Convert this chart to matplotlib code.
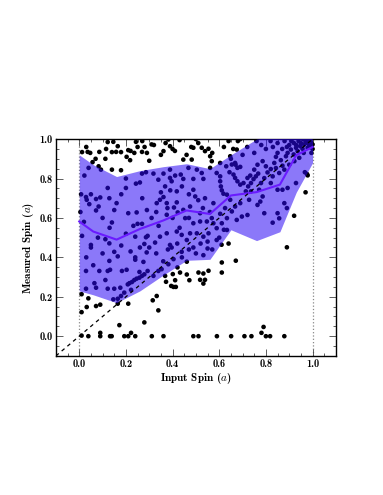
#!/usr/bin/env python3
"""Measured vs input spin: scatter with median and spread band."""

import numpy as np
import matplotlib
matplotlib.use("Agg")
import matplotlib.pyplot as plt
from matplotlib.ticker import MultipleLocator

plt.rcParams['mathtext.fontset'] = 'cm'
plt.rcParams['font.family'] = 'serif'
plt.rcParams['font.serif'] = ['cmb10', 'DejaVu Serif']
plt.rcParams['axes.unicode_minus'] = False

# binned median and spread
bin_x = [0.00, 0.06, 0.16, 0.26, 0.36, 0.46, 0.56, 0.65, 0.76, 0.86, 0.93, 1.00]
band_lo = [0.23, 0.21, 0.17, 0.23, 0.31, 0.385, 0.39, 0.54, 0.485, 0.53, 0.73, 0.88]
band_hi = [0.92, 0.87, 0.81, 0.84, 0.86, 0.875, 0.85, 0.92, 1.00, 1.02, 1.03, 1.00]
median = [0.582, 0.531, 0.49, 0.544, 0.587, 0.638, 0.62, 0.714, 0.731, 0.769, 0.918, 0.96]

# individual measurements: input spin, measured spin
pts = [
    # above the band, left half
    (0.012, 0.934), (0.036, 0.935), (0.047, 0.93), (0.086, 0.935), (0.115, 0.95),
    (0.122, 0.985), (0.146, 0.986), (0.14, 0.934), (0.158, 0.935), (0.179, 0.934),
    (0.165, 0.964), (0.203, 0.91), (0.218, 0.893), (0.21, 0.944), (0.236, 0.93),
    (0.243, 0.986), (0.269, 0.935), (0.112, 0.90), (0.057, 0.883), (0.083, 0.862),
    (0.093, 0.845), (0.14, 0.845), (0.179, 0.842), (0.03, 0.96), (0.07, 0.90),
    (0.25, 0.96), (0.27, 0.99), (0.28, 0.96), (0.29, 0.93), (0.30, 0.89),
    (0.31, 0.973), (0.361, 0.939), (0.382, 0.998), (0.389, 0.964), (0.40, 0.95),
    (0.41, 0.94), (0.43, 0.995), (0.446, 0.896), (0.482, 0.896), (0.489, 0.956),
    (0.525, 0.956), (0.539, 0.939), (0.554, 0.951), (0.561, 0.913), (0.568, 0.888),
    (0.604, 0.879), (0.647, 0.913), (0.675, 0.947), (0.69, 1.0), (0.35, 0.92),
    (0.37, 0.98), (0.46, 0.92), (0.48, 0.96), (0.50, 1.0), (0.51, 0.98),
    (0.57, 0.93), (0.62, 0.96), (0.64, 0.99), (0.32, 0.97), (0.22, 0.94),
    # inside band, left third
    (0.04, 0.854), (0.022, 0.815), (0.122, 0.752), (0.20, 0.752), (0.243, 0.774),
    (0.269, 0.825), (0.286, 0.832), (0.029, 0.706), (0.032, 0.692), (0.043, 0.67),
    (0.072, 0.696), (0.09, 0.704), (0.083, 0.658), (0.072, 0.638), (0.129, 0.70),
    (0.16, 0.675), (0.21, 0.624), (0.246, 0.628), (0.14, 0.577), (0.232, 0.56),
    (0.25, 0.57), (0.269, 0.57), (0.286, 0.502), (0.293, 0.509), (0.012, 0.509),
    (0.112, 0.492), (0.129, 0.471), (0.05, 0.463), (0.24, 0.505), (0.279, 0.468),
    (0.05, 0.45), (0.15, 0.428), (0.165, 0.405), (0.129, 0.382), (0.122, 0.331),
    (0.132, 0.337), (0.24, 0.40), (0.24, 0.388), (0.029, 0.331), (0.086, 0.331),
    (0.183, 0.331), (0.203, 0.337), (0.258, 0.326), (0.293, 0.331), (0.112, 0.285),
    (0.065, 0.269), (0.072, 0.246), (0.122, 0.241), (0.15, 0.241), (0.176, 0.246),
    (0.208, 0.263), (0.215, 0.269), (0.226, 0.275), (0.236, 0.285), (0.246, 0.292),
    (0.258, 0.297), (0.269, 0.306), (0.279, 0.314), (0.029, 0.241), (0.179, 0.204),
    (0.165, 0.19), (0.146, 0.187), (0.193, 0.221), (0.222, 0.235), (0.289, 0.425),
    (0.275, 0.377), (0.02, 0.58), (0.03, 0.40), (0.06, 0.36), (0.10, 0.42),
    (0.18, 0.46), (0.20, 0.52), (0.22, 0.43), (0.26, 0.45), (0.13, 0.55),
    (0.08, 0.50), (0.26, 0.78), (0.20, 0.80), (0.18, 0.72), (0.15, 0.64),
    (0.10, 0.60), (0.05, 0.72), (0.005, 0.63), (0.008, 0.72),
    # inside band, middle
    (0.318, 0.825), (0.361, 0.825), (0.389, 0.803), (0.396, 0.786), (0.411, 0.815),
    (0.435, 0.82), (0.446, 0.798), (0.489, 0.798), (0.525, 0.828), (0.532, 0.798),
    (0.589, 0.828), (0.604, 0.811), (0.604, 0.786), (0.607, 0.76), (0.611, 0.74),
    (0.618, 0.723), (0.63, 0.862), (0.654, 0.871), (0.668, 0.879), (0.678, 0.854),
    (0.69, 0.859), (0.644, 0.832), (0.661, 0.82), (0.668, 0.803), (0.678, 0.786),
    (0.69, 0.769), (0.704, 0.777), (0.361, 0.706), (0.346, 0.692), (0.332, 0.675),
    (0.375, 0.675), (0.378, 0.65), (0.375, 0.616), (0.418, 0.679), (0.406, 0.653),
    (0.422, 0.628), (0.489, 0.743), (0.497, 0.709), (0.518, 0.624), (0.475, 0.658),
    (0.446, 0.641), (0.454, 0.599), (0.489, 0.573), (0.518, 0.582), (0.547, 0.582),
    (0.568, 0.599), (0.575, 0.573), (0.589, 0.548), (0.554, 0.522), (0.532, 0.505),
    (0.504, 0.522), (0.475, 0.522), (0.439, 0.514), (0.418, 0.531), (0.375, 0.522),
    (0.346, 0.505), (0.325, 0.475), (0.389, 0.463), (0.461, 0.488), (0.589, 0.488),
    (0.633, 0.539), (0.675, 0.59), (0.697, 0.607), (0.654, 0.633), (0.668, 0.658),
    (0.69, 0.675), (0.647, 0.692), (0.633, 0.718), (0.625, 0.65), (0.633, 0.599),
    (0.604, 0.621), (0.611, 0.573), (0.504, 0.845), (0.561, 0.854), (0.468, 0.854),
    (0.389, 0.845), (0.339, 0.794), (0.368, 0.76), (0.418, 0.735), (0.539, 0.70),
    (0.575, 0.675), (0.30, 0.45), (0.33, 0.42), (0.36, 0.38), (0.38, 0.44),
    (0.42, 0.47), (0.44, 0.40), (0.47, 0.44), (0.50, 0.42), (0.52, 0.47),
    (0.55, 0.48), (0.57, 0.44), (0.60, 0.50), (0.62, 0.54), (0.64, 0.47),
    (0.34, 0.56), (0.31, 0.60), (0.29, 0.64), (0.27, 0.70), (0.35, 0.73),
    (0.39, 0.74), (0.44, 0.76), (0.47, 0.72), (0.51, 0.69), (0.53, 0.65),
    (0.56, 0.63), (0.47, 0.60), (0.43, 0.55), (0.40, 0.60), (0.33, 0.63),
    (0.318, 0.306), (0.339, 0.331), (0.353, 0.34), (0.368, 0.306), (0.382, 0.365),
    (0.404, 0.391), (0.396, 0.45), (0.439, 0.428), (0.489, 0.45), (0.532, 0.411),
    (0.55, 0.445),
    # inside band, right third
    (0.714, 0.735), (0.724, 0.76), (0.736, 0.777), (0.747, 0.797), (0.757, 0.811),
    (0.767, 0.825), (0.721, 0.803), (0.733, 0.815), (0.75, 0.845), (0.764, 0.87),
    (0.786, 0.888), (0.80, 0.862), (0.807, 0.831), (0.821, 0.848), (0.836, 0.879),
    (0.843, 0.91), (0.85, 0.93), (0.864, 0.893), (0.871, 0.865), (0.886, 0.913),
    (0.893, 0.93), (0.907, 0.947), (0.919, 0.922), (0.929, 0.956), (0.936, 0.939),
    (0.947, 0.964), (0.957, 0.951), (0.964, 0.973), (0.976, 0.981), (0.986, 0.968),
    (0.993, 0.985), (1.0, 0.973), (0.979, 0.956), (0.962, 0.93), (0.943, 0.905),
    (0.922, 0.888), (0.90, 0.87), (0.879, 0.845), (0.857, 0.828), (0.843, 0.853),
    (0.829, 0.811), (0.793, 0.802), (0.779, 0.777), (0.736, 0.735), (0.728, 0.692),
    (0.771, 0.743), (0.786, 0.709), (0.776, 0.683), (0.821, 0.777), (0.85, 0.743),
    (0.871, 0.743), (0.893, 0.752), (0.929, 0.777), (0.879, 0.675), (0.89, 0.65),
    (0.85, 0.624), (0.857, 0.598), (0.829, 0.576), (0.721, 0.615), (0.764, 0.666),
    (0.793, 0.624), (0.98, 1.0), (0.99, 0.99), (1.0, 0.95), (0.995, 0.93),
    (0.99, 0.96), (0.97, 0.99), (0.96, 1.0), (0.95, 0.98), (0.94, 0.99),
    (0.93, 0.97), (0.92, 0.98), (0.91, 0.99), (0.90, 0.97), (0.89, 0.96),
    (0.88, 0.99), (0.87, 0.95), (0.85, 0.98), (0.83, 0.96), (0.82, 0.99),
    (0.80, 0.95), (0.78, 0.97), (0.76, 0.99), (0.75, 0.93), (0.72, 0.96),
    (0.70, 0.92), (0.68, 0.99), (0.66, 0.95), (0.65, 0.90), (0.67, 0.87),
    # below the band
    (0.01, 0.213), (0.039, 0.192), (0.032, 0.148), (0.01, 0.122), (0.072, 0.153),
    (0.09, 0.16), (0.165, 0.165), (0.21, 0.165), (0.172, 0.056), (0.279, 0.07),
    (0.01, 0.003), (0.039, 0.0), (0.09, 0.017), (0.09, 0.0), (0.132, 0.0),
    (0.139, 0.0), (0.193, 0.0), (0.21, 0.0), (0.222, 0.017), (0.24, 0.0),
    (0.461, 0.378), (0.611, 0.374), (0.671, 0.383), (0.611, 0.323), (0.554, 0.332),
    (0.532, 0.318), (0.511, 0.323), (0.518, 0.286), (0.532, 0.267), (0.539, 0.286),
    (0.472, 0.284), (0.461, 0.313), (0.432, 0.323), (0.401, 0.315), (0.421, 0.349),
    (0.411, 0.284), (0.394, 0.255), (0.404, 0.25), (0.414, 0.25), (0.372, 0.276),
    (0.332, 0.204), (0.315, 0.182), (0.339, 0.131), (0.311, 0.0), (0.361, 0.0),
    (0.489, 0.0), (0.511, 0.0), (0.59, 0.0), (0.651, 0.0), (0.708, 0.0),
    (0.738, 0.0), (0.781, 0.017), (0.79, 0.047), (0.80, 0.0), (0.818, 0.0),
    (0.879, 0.0), (0.89, 0.451), (0.61, 0.464), (0.921, 0.611), (0.97, 0.73),
    (0.976, 0.823), (0.979, 0.816), (0.967, 0.832),
]

xs = np.array([p[0] for p in pts])
ys = np.array([p[1] for p in pts])

fig = plt.figure(figsize=(3.83, 4.95), dpi=100)
ax = fig.add_axes([0.146, 0.281, 0.731, 0.438])

ax.axvline(0.0, color="#888888", linestyle=":", linewidth=0.9, zorder=1)
ax.axvline(1.0, color="#888888", linestyle=":", linewidth=0.9, zorder=1)

ax.scatter(xs, ys, s=11, color="black", edgecolors="none", zorder=2)

ax.fill_between(bin_x, band_lo, band_hi, color="#2d09f5", alpha=0.55,
                linewidth=0, zorder=3)
ax.plot(bin_x, median, color="#6a1bff", linewidth=1.5, zorder=4)

ax.plot([-0.1, 1.1], [-0.1, 1.1], color="black", linestyle="--",
        linewidth=0.9, dashes=(3, 3), zorder=5)

ax.set_xlim(-0.1, 1.1)
ax.set_ylim(-0.1, 1.0)

xticks = [0.0, 0.2, 0.4, 0.6, 0.8, 1.0]
yticks = [0.0, 0.2, 0.4, 0.6, 0.8, 1.0]
ax.set_xticks(xticks)
ax.set_xticklabels([f"{t:.1f}" for t in xticks])
ax.set_yticks(yticks)
ax.set_yticklabels([f"{t:.1f}" for t in yticks])
ax.xaxis.set_minor_locator(MultipleLocator(0.05))
ax.yaxis.set_minor_locator(MultipleLocator(0.05))
ax.tick_params(which="both", direction="in", top=True, right=True,
               labelsize=7.5, width=0.6, color="#444444", pad=2.5)
ax.tick_params(which="major", length=5)
ax.tick_params(which="minor", length=2.5)
for sp in ax.spines.values():
    sp.set_linewidth(1.0)

ax.set_xlabel(r"Input Spin ($a$)", fontsize=8, labelpad=1)
ax.set_ylabel(r"Measured Spin ($a$)", fontsize=8, labelpad=2)

fig.savefig("out.png", dpi=100)
